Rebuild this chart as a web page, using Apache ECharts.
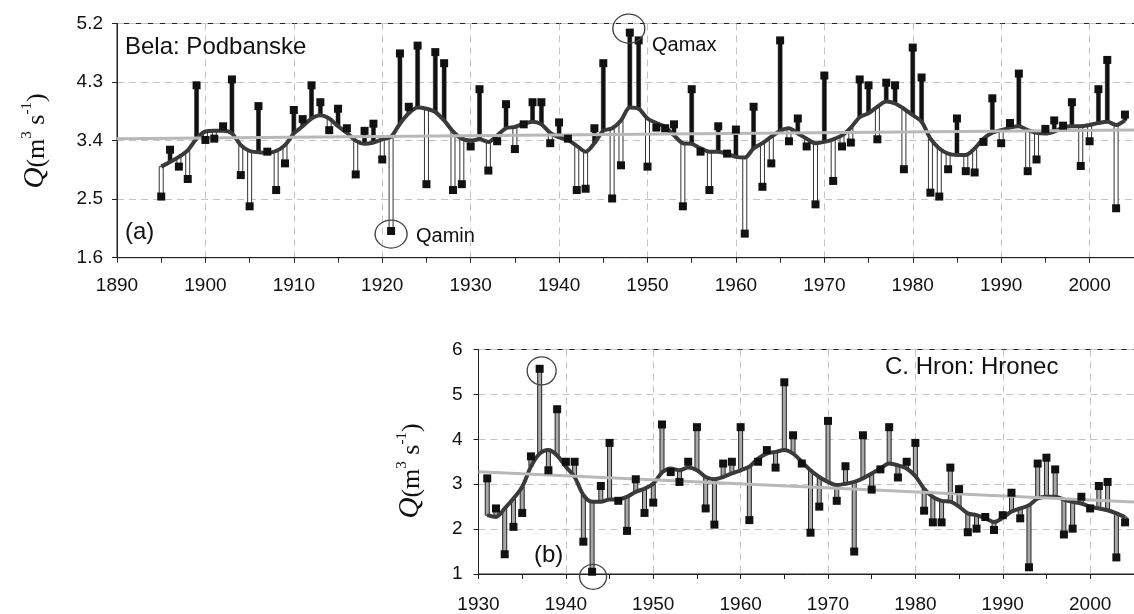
<!DOCTYPE html>
<html><head><meta charset="utf-8">
<script src="https://cdn.jsdelivr.net/npm/echarts@6/dist/echarts.min.js"></script>
<style>html,body{margin:0;padding:0;background:#fff}#c{width:1134px;height:614px}</style>
</head><body><div id="c"></div>
<script>
// ---------- Panel (a): Bela: Podbanske ----------
const yearsA = [1895,1896,1897,1898,1899,1900,1901,1902,1903,1904,1905,1906,1907,1908,1909,1910,1911,1912,1913,1914,1915,1916,1917,1918,1919,1920,1921,1922,1923,1924,1925,1926,1927,1928,1929,1930,1931,1932,1933,1934,1935,1936,1937,1938,1939,1940,1941,1942,1943,1944,1945,1946,1947,1948,1949,1950,1951,1952,1953,1954,1955,1956,1957,1958,1959,1960,1961,1962,1963,1964,1965,1966,1967,1968,1969,1970,1971,1972,1973,1974,1975,1976,1977,1978,1979,1980,1981,1982,1983,1984,1985,1986,1987,1988,1989,1990,1991,1992,1993,1994,1995,1996,1997,1998,1999,2000,2001,2002,2003,2004];
const qA = [2.54,3.26,3.00,2.81,4.25,3.41,3.43,3.62,4.34,2.87,2.39,3.93,3.23,2.64,3.05,3.87,3.73,4.25,3.99,3.56,3.89,3.59,2.88,3.55,3.66,3.11,2.01,4.74,3.92,4.86,2.73,4.76,4.59,2.64,2.73,3.31,4.19,2.94,3.39,3.96,3.27,3.65,3.99,3.99,3.36,3.68,3.43,2.64,2.66,3.59,4.59,2.51,3.02,5.06,4.94,3.00,3.60,3.59,3.65,2.39,4.19,3.23,2.64,3.62,3.20,3.57,1.97,3.92,2.69,3.05,4.94,3.39,3.74,3.31,2.42,4.40,2.78,3.31,3.37,4.34,4.25,3.42,4.29,4.25,2.96,4.83,4.37,2.60,2.54,2.96,3.74,2.93,2.91,3.38,4.05,3.36,3.67,4.43,2.93,3.11,3.58,3.71,3.63,3.99,3.01,3.39,4.19,4.64,2.36,3.80];
const smoothA = [3.00,3.07,3.15,3.25,3.43,3.54,3.55,3.55,3.51,3.33,3.24,3.22,3.21,3.24,3.33,3.51,3.62,3.74,3.79,3.74,3.62,3.52,3.40,3.35,3.37,3.42,3.46,3.66,3.82,3.91,3.89,3.84,3.71,3.54,3.43,3.40,3.42,3.38,3.48,3.59,3.61,3.66,3.69,3.65,3.52,3.45,3.41,3.32,3.23,3.36,3.55,3.59,3.71,3.91,3.89,3.74,3.67,3.61,3.48,3.36,3.35,3.28,3.23,3.23,3.20,3.15,3.14,3.28,3.36,3.46,3.55,3.59,3.51,3.43,3.36,3.38,3.42,3.48,3.60,3.76,3.82,3.92,4.00,3.97,3.89,3.79,3.69,3.43,3.28,3.20,3.18,3.18,3.28,3.43,3.52,3.56,3.60,3.62,3.56,3.52,3.51,3.54,3.60,3.62,3.62,3.64,3.67,3.69,3.64,3.71];
const trendA = [[1890, 3.43], [2010, 3.57]];
const extremesA = [[1921, 2.01], [1948, 5.06]];
const yTicksA = [1.6, 2.5, 3.4, 4.3, 5.2];

// ---------- Panel (b): C. Hron: Hronec ----------
const yearsB = [1931,1932,1933,1934,1935,1936,1937,1938,1939,1940,1941,1942,1943,1944,1945,1946,1947,1948,1949,1950,1951,1952,1953,1954,1955,1956,1957,1958,1959,1960,1961,1962,1963,1964,1965,1966,1967,1968,1969,1970,1971,1972,1973,1974,1975,1976,1977,1978,1979,1980,1981,1982,1983,1984,1985,1986,1987,1988,1989,1990,1991,1992,1993,1994,1995,1996,1997,1998,1999,2000,2001,2002,2003,2004];
const qB = [3.13,2.46,1.44,2.05,2.36,3.62,5.57,3.31,4.67,3.50,3.50,1.72,1.05,2.96,3.92,2.63,1.96,3.11,2.36,2.59,4.33,3.27,3.05,3.50,4.27,2.46,2.10,3.46,3.50,4.27,2.20,3.50,3.76,3.37,5.27,4.09,3.46,1.92,2.50,4.41,2.63,3.40,1.50,4.09,2.88,3.33,4.27,3.15,3.50,3.92,2.41,2.15,2.15,3.37,2.89,1.93,2.01,2.27,1.98,2.31,2.81,2.24,1.15,3.46,3.59,3.33,1.88,2.01,2.72,2.46,2.96,3.05,1.37,2.15];
const smoothB = [2.31,2.27,2.46,2.68,2.94,3.39,3.68,3.76,3.64,3.39,3.16,2.76,2.61,2.61,2.66,2.66,2.72,2.83,2.90,3.01,3.26,3.35,3.31,3.37,3.31,3.16,3.11,3.16,3.24,3.31,3.39,3.57,3.68,3.72,3.76,3.68,3.50,3.31,3.16,3.05,2.98,3.01,3.05,3.13,3.24,3.35,3.46,3.42,3.35,3.18,2.90,2.72,2.63,2.61,2.50,2.35,2.31,2.24,2.16,2.25,2.39,2.46,2.53,2.68,2.72,2.72,2.66,2.61,2.57,2.50,2.46,2.42,2.35,2.27];
const trendB = [[1930, 3.28], [2010, 2.56]];
const extremesB = [[1937, 5.57], [1943, 1.05]];

const chart = echarts.init(document.getElementById('c'), null, {renderer: 'canvas'});

const FONT = 'Liberation Sans';
const INK = '#111';

function stemRender(upStyle, downStyle) {
  return function (params, api) {
    const x = api.value(0), c = api.value(1), v = api.value(2);
    const a = api.coord([x, c]), b = api.coord([x, v]);
    const st = v >= c ? upStyle : downStyle;
    const w = 4;
    return {
      type: 'rect',
      shape: {x: a[0] - w / 2, y: Math.min(a[1], b[1]), width: w, height: Math.abs(a[1] - b[1])},
      style: {fill: st.fill, stroke: st.stroke, lineWidth: st.lw}
    };
  };
}

function xAxisCfg(gi, min) {
  return {
    type: 'value', gridIndex: gi, min: min, max: 2010, interval: 10,
    axisLine: {show: true, onZero: false, lineStyle: {color: '#222', width: 1}},
    axisTick: {show: true, length: 5, inside: false, lineStyle: {color: '#222'}},
    minorTick: {show: true, splitNumber: 2, length: 5, lineStyle: {color: '#222'}},
    axisLabel: {color: INK, fontFamily: FONT, fontSize: 19, margin: gi === 0 ? 19 : 21,
      formatter: v => (Math.abs(v % 10) < 1e-6 ? String(Math.round(v)) : '')},
    splitLine: {show: true, lineStyle: {color: '#c4c4c4', width: 1, type: [7, 5]}}
  };
}
function yAxisCfg(gi, min, max, interval, dec) {
  return {
    type: 'value', gridIndex: gi, min: min, max: max, interval: interval,
    axisLine: {show: true, lineStyle: {color: '#222', width: 1}},
    axisTick: {show: true, length: 5, inside: false, lineStyle: {color: '#222'}},
    axisLabel: {color: INK, fontFamily: FONT, fontSize: 19, margin: gi === 0 ? 14 : 16,
      formatter: v => Number(v).toFixed(dec)},
    splitLine: {show: true, lineStyle: {color: '#c4c4c4', width: 1, type: [7, 5]}}
  };
}

function yTitle(x, y) {
  return {
    type: 'text', x: x, y: y, rotation: Math.PI / 2, z: 10,
    style: {
      text: '{q|Q}{n|(m}{s|3}{n| s}{s|-1}{n|)}',
      align: 'center', verticalAlign: 'middle', textAlign: 'center', textVerticalAlign: 'middle',
      fill: INK,
      rich: {
        q: {fontFamily: 'Liberation Serif', fontStyle: 'italic', fontSize: 29, fill: INK, color: INK, lineHeight: 30, verticalAlign: 'bottom'},
        n: {fontFamily: 'Liberation Serif', fontSize: 26, fill: INK, color: INK, lineHeight: 30, verticalAlign: 'bottom'},
        s: {fontFamily: 'Liberation Serif', fontSize: 15, fill: INK, color: INK, lineHeight: 15, verticalAlign: 'top'}
      }
    }
  };
}
function label(text, x, y, size) {
  return {type: 'text', x: x, y: y, z: 10,
    style: {text: text, fill: INK, fontFamily: FONT, fontSize: size, font: size + 'px "' + FONT + '"',
      align: 'left', verticalAlign: 'middle', textAlign: 'left', textVerticalAlign: 'middle'}};
}

const circleStyle = {color: 'rgba(0,0,0,0)', borderColor: '#444', borderWidth: 1.3, opacity: 1};
const markStyle = {color: '#111', opacity: 1};

chart.setOption({
  animation: false,
  backgroundColor: '#fff',
  grid: [
    {left: 117, top: 23.5, width: 1061, height: 234.2, show: true, borderColor: '#222', borderWidth: 1, backgroundColor: 'transparent', outerBoundsMode: 'none', containLabel: false},
    {left: 478.5, top: 349.5, width: 699, height: 224.5, show: true, borderColor: '#222', borderWidth: 1, backgroundColor: 'transparent', outerBoundsMode: 'none', containLabel: false}
  ],
  xAxis: [xAxisCfg(0, 1890), xAxisCfg(1, 1930)],
  yAxis: [yAxisCfg(0, yTicksA[0], yTicksA[yTicksA.length - 1], 0.9, 1), yAxisCfg(1, 1, 6, 1, 0)],
  series: [
    // panel (a)
    {type: 'custom', xAxisIndex: 0, yAxisIndex: 0, z: 2, silent: true,
      renderItem: stemRender({fill: '#111', stroke: '#111', lw: 0.5}, {fill: '#fff', stroke: '#333', lw: 1}),
      encode: {x: 0, y: [1, 2]},
      data: yearsA.map((y, i) => [y, smoothA[i], qA[i]])},
    {type: 'line', xAxisIndex: 0, yAxisIndex: 0, z: 3, silent: true, showSymbol: false, symbol: 'none', smooth: 0.3,
      lineStyle: {color: '#3a3a3a', width: 4}, data: yearsA.map((y, i) => [y, smoothA[i]])},
    {type: 'line', xAxisIndex: 0, yAxisIndex: 0, z: 4, silent: true, symbol: 'none',
      lineStyle: {color: '#b8b8b8', width: 3}, data: trendA},
    {type: 'scatter', xAxisIndex: 0, yAxisIndex: 0, z: 5, silent: true, symbol: 'rect', symbolSize: 8,
      itemStyle: markStyle, data: yearsA.map((y, i) => [y, qA[i]])},
    {type: 'scatter', xAxisIndex: 0, yAxisIndex: 0, z: 6, silent: true, clip: false, symbol: 'circle',
      symbolSize: [32, 28], itemStyle: circleStyle,
      data: [{value: extremesA[0], symbolOffset: [0, 3]}, {value: extremesA[1], symbolOffset: [-1, -4], symbolSize: [32, 29]}]},
    // panel (b)
    {type: 'custom', xAxisIndex: 1, yAxisIndex: 1, z: 2, silent: true,
      renderItem: stemRender({fill: '#a8a8a8', stroke: '#222', lw: 1}, {fill: '#a8a8a8', stroke: '#222', lw: 1}),
      encode: {x: 0, y: [1, 2]},
      data: yearsB.map((y, i) => [y, smoothB[i], qB[i]])},
    {type: 'line', xAxisIndex: 1, yAxisIndex: 1, z: 3, silent: true, showSymbol: false, symbol: 'none', smooth: 0.3,
      lineStyle: {color: '#3a3a3a', width: 4}, data: yearsB.map((y, i) => [y, smoothB[i]])},
    {type: 'line', xAxisIndex: 1, yAxisIndex: 1, z: 4, silent: true, symbol: 'none',
      lineStyle: {color: '#b8b8b8', width: 3}, data: trendB},
    {type: 'scatter', xAxisIndex: 1, yAxisIndex: 1, z: 5, silent: true, symbol: 'rect', symbolSize: 8,
      itemStyle: markStyle, data: yearsB.map((y, i) => [y, qB[i]])},
    {type: 'scatter', xAxisIndex: 1, yAxisIndex: 1, z: 6, silent: true, clip: false, symbol: 'circle',
      itemStyle: circleStyle,
      data: [{value: extremesB[0], symbolOffset: [2, 2], symbolSize: [29, 28]}, {value: extremesB[1], symbolOffset: [1, 5], symbolSize: [27, 25]}]}
  ],
  graphic: [
    yTitle(35, 141),
    yTitle(410, 471),
    label('Bela: Podbanske', 125, 47, 24),
    label('(a)', 125, 232, 24),
    label('Qamin', 416, 236, 20),
    label('Qamax', 652, 45, 20),
    label('C. Hron: Hronec', 885, 367, 24),
    label('(b)', 534, 555, 24)
  ]
});
</script>
</body></html>
